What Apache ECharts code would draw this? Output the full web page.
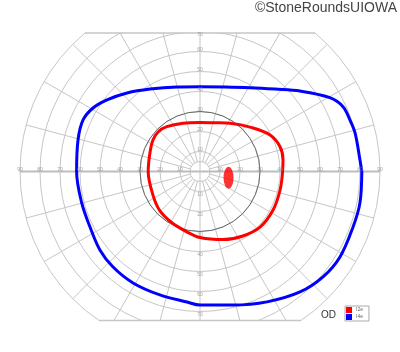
<!DOCTYPE html>
<html><head><meta charset="utf-8">
<script src="https://cdn.jsdelivr.net/npm/echarts@6/dist/echarts.min.js"></script>
<style>html,body{margin:0;padding:0;background:#fff}#c{width:400px;height:352px}</style>
</head><body><div id="c"></div>
<script>
// ---- data (degrees of visual field) ----
const hLabels = [10, 20, 30, 40, 50, 60, 70, 80, 90];
const vLabels = [10, 20, 30, 40, 50, 60, 70];
const spokeAngles = [0, 15, 30, 45, 60, 75, 90, 105, 120, 135, 150, 165, 180, 195, 210, 225, 240, 255, 270, 285, 300, 315, 330, 345];
const clipTopDeg = 69.2;
const clipBottomDeg = 74.5;
const innerRing = 5;
const darkRing = 30;

// I4e isopter (blue): angle (deg, CCW from right) and eccentricity (deg)
const i4eAngle  = [0, 4.1, 13.9, 18.9, 24.4, 29.6, 38.8, 47.7, 59.2, 73.5, 90, 105.2, 121.2, 132.9, 142.4, 149.3, 156.2, 165.5, 180, 194.9, 206.8, 218.1, 227.7, 239, 252, 264.3, 270, 283.9, 297.2, 309.7, 319.4, 328.6, 340.1, 348.9, 360];
const i4eRadius = [80.9, 80.2, 79.9, 79.3, 78.5, 74.7, 64.2, 55.7, 48.8, 44.1, 42.4, 43.8, 48.2, 53.6, 58.7, 62.2, 63.9, 63.0, 61.7, 61.2, 61.6, 63.6, 64.6, 65.0, 64.9, 65.6, 66.8, 68.8, 73.3, 78.3, 81.0, 82.0, 81.4, 81.5, 80.9];

// I2e isopter (red)
const i2eAngle  = [0, 7.9, 17.2, 27.5, 40.2, 58.1, 72.9, 90, 109.4, 126.6, 136.3, 146.2, 159.7, 180, 206.6, 223.9, 240.9, 257.2, 270, 289, 303, 317.2, 332.2, 347, 360];
const i2eRadius = [41.3, 41.9, 41.9, 39.5, 34.0, 28.4, 25.5, 24.5, 25.6, 27.9, 28.8, 28.3, 26.7, 25.9, 26.3, 28.0, 29.2, 30.8, 33.0, 36.0, 38.6, 40.9, 41.3, 41.1, 41.3];

// blind spot (I2e scotoma)
const blindSpot = [14.6, 347.8];

const seriesNames = ['I2e', 'I4e'];
const seriesColors = ['#ff0000', '#0000ff'];

const GRID = '#c6c6c6';
const chart = echarts.init(document.getElementById('c'), null, {renderer: 'canvas'});

function zipPolar(rs, as) { return rs.map((r, i) => [r, as[i]]); }

const labelData = [];
hLabels.forEach(v => { labelData.push({value: [v, 0], label: {offset: [0, -2]}}); labelData.push({value: [v, 180], label: {offset: [0, -2]}}); });
vLabels.forEach(v => {
  labelData.push({value: [v, 90], label: {offset: [0, v === 70 ? 3.5 : -2]}});
  labelData.push({value: [v, 270], label: {offset: [0, 3]}});
});

const option = {
  animation: false,
  backgroundColor: '#fff',
  title: [
    {text: '©StoneRoundsUIOWA', right: 3, top: 1.5, padding: 0, z: 100,
     textStyle: {fontSize: 14, fontWeight: 'normal', color: '#444', fontFamily: 'Liberation Sans'}},
    {text: 'OD', left: 321, top: 310.5, padding: 0, z: 100,
     textStyle: {fontSize: 10, fontWeight: 'normal', color: '#333', fontFamily: 'Liberation Sans'}}
  ],
  legend: {
    data: seriesNames.map(n => ({name: n, icon: 'rect'})),
    orient: 'vertical', left: 345, top: 306, z: 100,
    itemWidth: 6, itemHeight: 6, itemGap: 1,
    padding: [1, 6, 1, 1],
    borderColor: '#aaa', borderWidth: 1, backgroundColor: '#fff',
    textStyle: {fontSize: 5, color: '#666', fontFamily: 'Liberation Sans', padding: [0, 0, 0, -1]},
    selectedMode: false
  },
  polar: {center: [200, 171.5], radius: 180},
  angleAxis: {type: 'value', min: 0, max: 360, startAngle: 0, clockwise: false, interval: 15,
    axisLine: {show: false}, axisTick: {show: false}, axisLabel: {show: false}, splitLine: {show: false}},
  radiusAxis: {type: 'value', min: 0, max: 90, interval: 10,
    axisLine: {show: false}, axisTick: {show: false}, axisLabel: {show: false},
    splitLine: {show: true, lineStyle: {color: GRID, width: 1}}},
  series: [
    { // spokes
      type: 'custom', coordinateSystem: 'polar', silent: true, z: 1,
      data: spokeAngles.map(a => [a % 90 === 0 ? 0 : innerRing, a]),
      renderItem: (p, api) => {
        const a = api.value(1);
        const p1 = api.coord([api.value(0), a]);
        const p2 = api.coord([90, a]);
        const horiz = (a === 0 || a === 180);
        return {type: 'line', shape: {x1: p1[0], y1: p1[1], x2: p2[0], y2: p2[1]},
          style: {stroke: horiz ? '#bdbdbd' : GRID, lineWidth: horiz ? 2 : 1}};
      }
    },
    { // inner ring and dark 30 ring
      type: 'custom', coordinateSystem: 'polar', silent: true, z: 2,
      data: [[innerRing, 0], [darkRing, 0]],
      renderItem: (p, api) => {
        const c = api.coord([0, 0]);
        const e = api.coord([api.value(0), 0]);
        const dark = api.value(0) === darkRing;
        return {type: 'circle', shape: {cx: c[0], cy: c[1], r: e[0] - c[0]},
          style: {fill: dark ? 'none' : '#fff', stroke: dark ? '#6a6a6a' : GRID, lineWidth: 1}};
      }
    },
    { // cross inside inner ring
      type: 'custom', coordinateSystem: 'polar', silent: true, z: 3,
      data: [[innerRing, 0]],
      renderItem: (p, api) => {
        const l = api.coord([innerRing, 180]), r = api.coord([innerRing, 0]);
        const t = api.coord([innerRing, 90]), b = api.coord([innerRing, 270]);
        return {type: 'group', children: [
          {type: 'line', shape: {x1: l[0], y1: l[1], x2: r[0], y2: r[1]}, style: {stroke: '#bdbdbd', lineWidth: 2}},
          {type: 'line', shape: {x1: t[0], y1: t[1], x2: b[0], y2: b[1]}, style: {stroke: GRID, lineWidth: 1}}
        ]};
      }
    },
    {
      name: 'I4e', type: 'line', coordinateSystem: 'polar', z: 5,
      data: zipPolar(i4eRadius, i4eAngle), showSymbol: false, smooth: 0.35,
      itemStyle: {color: seriesColors[1]}, lineStyle: {color: seriesColors[1], width: 3}
    },
    {
      name: 'I2e', type: 'line', coordinateSystem: 'polar', z: 6,
      data: zipPolar(i2eRadius, i2eAngle), showSymbol: false, smooth: 0.35,
      itemStyle: {color: seriesColors[0]}, lineStyle: {color: seriesColors[0], width: 3}
    },
    {
      name: 'blind', type: 'scatter', coordinateSystem: 'polar', z: 6,
      data: [blindSpot], symbol: 'circle', symbolSize: [10, 22],
      itemStyle: {color: seriesColors[0]}
    },
    { // mask outside field clipping and flat boundaries
      type: 'custom', coordinateSystem: 'polar', silent: true, z: 10,
      data: [[0, 0]],
      renderItem: (p, api) => {
        const W = api.getWidth(), H = api.getHeight();
        const yt = api.coord([clipTopDeg, 90])[1];
        const yb = api.coord([clipBottomDeg, 270])[1];
        const at = Math.asin(clipTopDeg / 90) * 180 / Math.PI;
        const ab = Math.asin(clipBottomDeg / 90) * 180 / Math.PI;
        const tl = api.coord([90, 180 - at]), tr = api.coord([90, at]);
        const bl = api.coord([90, 180 + ab]), br = api.coord([90, 360 - ab]);
        return {type: 'group', children: [
          {type: 'rect', shape: {x: 0, y: 0, width: W, height: yt - 0.5}, style: {fill: '#fff'}},
          {type: 'rect', shape: {x: 0, y: yb + 0.5, width: W, height: H - yb}, style: {fill: '#fff'}},
          {type: 'line', shape: {x1: tl[0], y1: yt, x2: tr[0], y2: yt}, style: {stroke: GRID, lineWidth: 1.5}},
          {type: 'line', shape: {x1: bl[0], y1: yb, x2: br[0], y2: yb}, style: {stroke: GRID, lineWidth: 1.5}}
        ]};
      }
    },
    { // scale labels
      type: 'scatter', coordinateSystem: 'polar', silent: true, z: 12,
      symbolSize: 0, data: labelData,
      label: {show: true, position: 'inside', formatter: p => String(p.value[0]),
        fontSize: 5, color: '#8a8a8a', fontFamily: 'Liberation Sans'}
    }
  ]
};
chart.setOption(option);
</script>
</body></html>
